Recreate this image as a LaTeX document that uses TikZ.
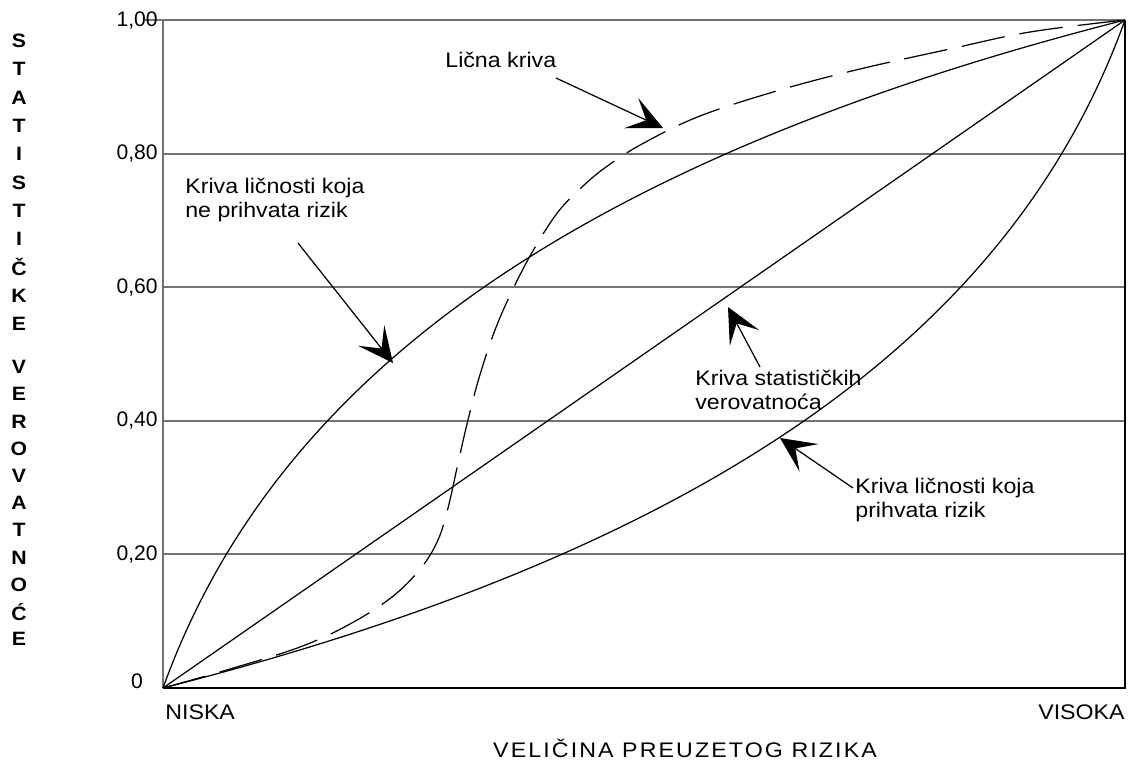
\documentclass[tikz,border=0pt]{standalone}
\usepackage{fontspec}
\setmainfont[FakeStretch=1.1]{Liberation Sans}
\newfontfamily\tickfont{Liberation Sans}
\usetikzlibrary{arrows.meta}
\begin{document}
\begin{tikzpicture}[x=0.02cm,y=-0.02cm,
  font=\fontsize{12}{14}\selectfont,
  grid/.style={draw=black!55,line width=1.1pt},
  frame/.style={draw=black,line width=0.8pt},
  curve/.style={draw=black,line width=0.7pt},
  dashcurve/.style={curve,dash pattern=on 25pt off 8.5pt},
  pointer/.style={draw=black,line width=0.7pt,
    -{Stealth[length=20pt,width=19pt,inset=9.5pt]}},
  lbl/.style={inner sep=0pt,anchor=west,align=left},
  tick/.style={inner sep=0pt,anchor=east,font=\tickfont\fontsize{12}{14}\selectfont},
  vlet/.style={inner sep=0pt,font=\fontsize{11}{12}\selectfont\bfseries}]
\useasboundingbox (0,0) rectangle (1129,764);

% horizontal grid and axes
\foreach \yy/\t [count=\k] in {153.6/{0,80},287.2/{0,60},420.8/{0,40},554.4/{0,20}}
  {\draw[grid] (163,\yy) -- (1125,\yy);
   \node[tick] (t\k) at (158,\yy) {\t};}
\draw[grid] (145,20) -- (1125,20);
\node[tick] (t0) at (158,20) {1,00};
\draw[grid] (163,20) -- (163,688);
\draw[frame] (1125,20) -- (1125,688) -- (163,688);
\node[tick,anchor=center] (tz) at (137,681) {0};

\coordinate (O) at (163,688);
\coordinate (T) at (1125,20);

% statistical probability curve
\draw[curve] (O) -- (T);
% risk averse curve
\draw[curve] (O) .. controls (269,394) and (548,167) .. (T);
% risk taking curve (point reflection of the one above)
\draw[curve] (O) .. controls (740,541) and (1019,314) .. (T);
% personal curve
\draw[dashcurve] plot[smooth,tension=0.6] coordinates {(163,688) (230,669) (300,647) (350,624) (392,597) (421,568) (438,540) (448,508) (457,468) (467,424) (479,378) (495,330) (513,289) (534,249) (558,212) (582,187) (606,167) (642,144) (700,116) (780,90) (860,69) (950,49) (1030,32) (1125,20)};

% texts
\node[lbl] (lk) at (445,60) {Lična kriva};
\node[lbl] (ra) at (185,200) {Kriva ličnosti koja\\ne prihvata rizik};
\node[lbl] (st) at (695,390) {Kriva statističkih\\verovatnoća};
\node[lbl] (rt) at (855,500) {Kriva ličnosti koja\\prihvata rizik};
\node[inner sep=0pt,anchor=west] (lo) at (165,712) {NISKA};
\node[inner sep=0pt,anchor=east] (hi) at (1125,712) {VISOKA};
\node[inner sep=0pt] (xt) at (685,748) {\addfontfeature{LetterSpace=10}VELIČINA PREUZETOG RIZIKA};

\foreach \ch [count=\i from 0] in {S,T,A,T,I,S,T,I,Č,K,E}
  \node[vlet] (sa\i) at (19,41+28.3*\i) {\ch};
\foreach \ch [count=\i from 0] in {V,E,R,O,V,A,T,N,O,Ć,E}
  \node[vlet] (sb\i) at (19,367+27.2*\i) {\ch};

% pointers
\coordinate (a1s) at (556,78);   \coordinate (a1e) at (663,128);
\coordinate (a2s) at (298,243);  \coordinate (a2e) at (393,363);
\coordinate (a3s) at (760,367);  \coordinate (a3e) at (728,307);
\coordinate (a4s) at (853,488);  \coordinate (a4e) at (780,438);
\draw[pointer] (a1s) -- (a1e);
\draw[pointer] (a2s) -- (a2e);
\draw[pointer] (a3s) -- (a3e);
\draw[pointer] (a4s) -- (a4e);
\end{tikzpicture}
\end{document}
